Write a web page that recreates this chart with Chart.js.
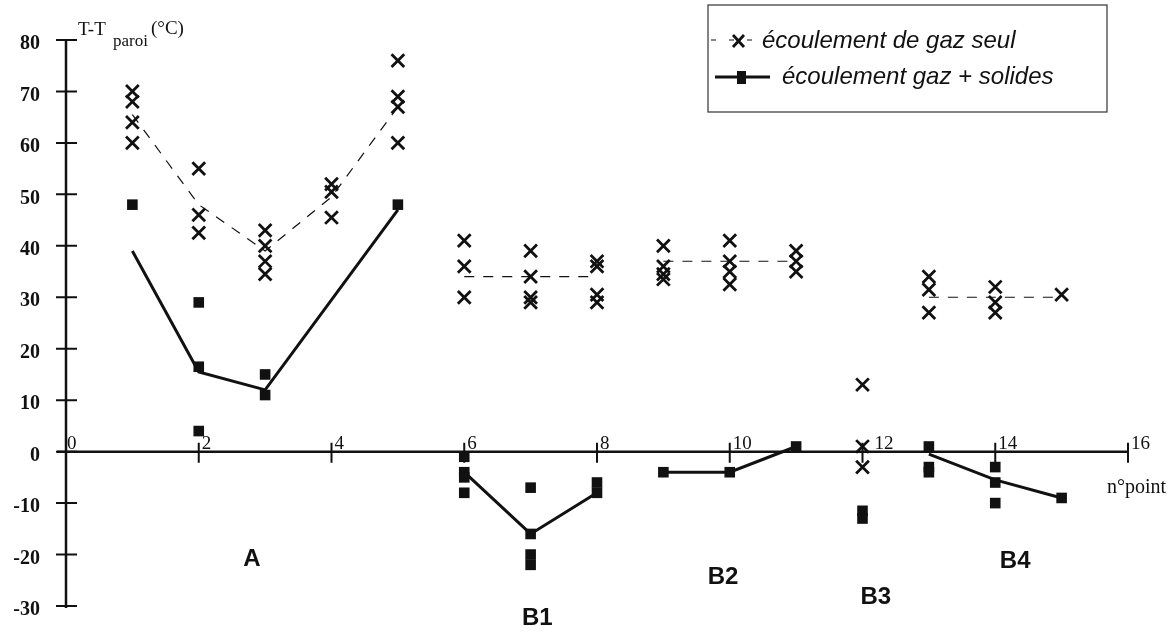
<!DOCTYPE html>
<html lang="fr">
<head>
<meta charset="utf-8">
<title>T-T paroi</title>
<script src="https://cdn.jsdelivr.net/npm/chart.js@4.4.1/dist/chart.umd.min.js"></script>
<style>
  html, body { margin: 0; padding: 0; background: #fff; }
  #wrap { position: relative; width: 1173px; height: 635px; }
</style>
</head>
<body>
<div id="wrap"><canvas id="graphe"></canvas></div>
<script>
// n° de point de mesure
const points = [1, 2, 3, 4, 5, 6, 7, 8, 9, 10, 11, 12, 13, 14, 15];

// T - T paroi (°C), toutes les mesures de chaque point
const gazSeul = [
  [70, 68, 64, 60], [55, 46, 42.5], [43, 40, 37, 34.5], [52, 50.5, 45.5], [76, 69, 67, 60],
  [41, 36, 30], [39, 34, 30, 29], [37, 36, 30.5, 29],
  [40, 36, 34.5, 33.5], [41, 37, 35, 32.5], [39, 37, 35],
  [13, 1, -3],
  [34, 31.5, 27], [32, 29, 27], [30.5]
];
const gazSolides = [
  [48], [29, 16.5, 4], [15, 11], [], [48],
  [-1, -4, -5, -8], [-7, -16, -20, -22], [-6, -8],
  [-4], [-4], [1],
  [-11.5, -13],
  [1, -3, -4], [-3, -6, -10], [-9]
];

// valeurs moyennes reliées par les courbes
const moyGazSeul = [65.5, 48, 39, 49.5, 67, 34, 34, 34, 37, 37, 37, null, 30, 30, 30];
const moyGazSolides = [39, 15.5, 12, null, 47, -4, -16, -8, -4, -4, 1, null, -0.5, -5.5, -9];

// zones de mesure
const zones = ['A', 'B1', 'B2', 'B3', 'B4'];
const zoneDebut = [1, 6, 9, 12, 13];
const zoneFin = [5, 8, 11, 12, 15];
const zoneEtiqX = [2.8, 7.1, 9.9, 12.2, 14.3];
const zoneEtiqY = [-21, -32.5, -24.5, -28.3, -21.4];

const xTicks = [0, 2, 4, 6, 8, 10, 12, 14, 16];
const yTicks = [80, 70, 60, 50, 40, 30, 20, 10, 0, -10, -20, -30];

const noir = '#111';

function nuage(series) {
  const pts = [];
  series.forEach((vals, i) => vals.forEach(v => pts.push({ x: points[i], y: v })));
  return pts;
}

function segments(moy, style) {
  return zones.map((z, k) => {
    const data = [];
    points.forEach((p, i) => {
      if (p >= zoneDebut[k] && p <= zoneFin[k] && moy[i] !== null) data.push({ x: p, y: moy[i] });
    });
    return Object.assign({
      data: data,
      showLine: true,
      pointRadius: 0,
      borderColor: noir,
      fill: false,
      clip: false
    }, style);
  }).filter(ds => ds.data.length > 1);
}

const datasets = [
  {
    label: 'écoulement de gaz seul',
    data: nuage(gazSeul),
    pointStyle: 'crossRot',
    pointRadius: 9,
    borderWidth: 2.8,
    borderColor: noir,
    showLine: false,
    clip: false
  },
  {
    label: 'écoulement gaz + solides',
    data: nuage(gazSolides),
    pointStyle: 'rect',
    pointRadius: 7.5,
    borderWidth: 0,
    backgroundColor: noir,
    showLine: false,
    clip: false
  }
].concat(
  segments(moyGazSeul, { borderWidth: 1.2, borderDash: [10, 9] }),
  segments(moyGazSolides, { borderWidth: 3 })
);

const axesEtTextes = {
  id: 'axesEtTextes',
  beforeDatasetsDraw(chart) {
    const { ctx, scales: { x, y } } = chart;
    const x0 = x.getPixelForValue(0);
    const y0 = y.getPixelForValue(0);
    ctx.save();
    ctx.strokeStyle = noir;
    ctx.lineWidth = 2.5;
    ctx.beginPath();
    ctx.moveTo(x0, y.getPixelForValue(80));
    ctx.lineTo(x0, y.getPixelForValue(-30) + 2);
    ctx.moveTo(x0 - 9, y0);
    ctx.lineTo(x.getPixelForValue(16), y0);
    ctx.stroke();

    ctx.lineWidth = 2;
    ctx.beginPath();
    yTicks.forEach(v => {
      const py = y.getPixelForValue(v);
      ctx.moveTo(x0 - 10, py);
      ctx.lineTo(x0 + 11, py);
    });
    xTicks.forEach(v => {
      if (v === 0) return;
      const px = x.getPixelForValue(v);
      ctx.moveTo(px, y0 - 9);
      ctx.lineTo(px, y0 + 11);
    });
    ctx.stroke();

    // graduations
    ctx.fillStyle = noir;
    ctx.font = 'bold 20px "Liberation Serif"';
    ctx.textAlign = 'right';
    ctx.textBaseline = 'middle';
    yTicks.forEach(v => ctx.fillText(String(v), x0 - 26, y.getPixelForValue(v) + 4));

    ctx.font = '19px "Liberation Serif"';
    ctx.textAlign = 'left';
    ctx.textBaseline = 'alphabetic';
    xTicks.forEach(v => {
      const dx = v === 12 ? 12 : (v === 0 ? 1 : 3);
      ctx.fillText(String(v), x.getPixelForValue(v) + dx, y0 - 3);
    });

    // titres des axes
    ctx.font = '19px "Liberation Serif"';
    ctx.fillText('T-T', x0 + 12, 35);
    ctx.font = '17px "Liberation Serif"';
    ctx.fillText('paroi', x0 + 47, 46);
    ctx.font = '19px "Liberation Serif"';
    ctx.fillText('(°C)', x0 + 85, 34);
    ctx.font = '20px "Liberation Serif"';
    ctx.fillText('n°point', x.getPixelForValue(16) - 21, y0 + 41);
    ctx.restore();
  },
  afterDatasetsDraw(chart) {
    const { ctx, scales: { x, y } } = chart;
    ctx.save();
    ctx.fillStyle = noir;
    ctx.strokeStyle = noir;

    // zones
    ctx.font = 'bold 24px "Liberation Sans"';
    ctx.textAlign = 'center';
    ctx.textBaseline = 'middle';
    zones.forEach((z, k) => {
      ctx.fillText(z, x.getPixelForValue(zoneEtiqX[k]), y.getPixelForValue(zoneEtiqY[k]));
    });

    // légende
    const lx = 708, ly = 5, lw = 399, lh = 107;
    ctx.lineWidth = 1.2;
    ctx.strokeStyle = '#333';
    ctx.strokeRect(lx, ly, lw, lh);
    ctx.strokeStyle = noir;

    ctx.lineWidth = 1.2;
    ctx.setLineDash([5, 13]);
    ctx.beginPath();
    ctx.moveTo(lx + 3, 40);
    ctx.lineTo(lx + 46, 40);
    ctx.stroke();
    ctx.setLineDash([]);
    ctx.lineWidth = 2.8;
    ctx.beginPath();
    ctx.moveTo(lx + 25, 35); ctx.lineTo(lx + 36, 47);
    ctx.moveTo(lx + 36, 35); ctx.lineTo(lx + 25, 47);
    ctx.stroke();

    ctx.lineWidth = 3;
    ctx.beginPath();
    ctx.moveTo(lx + 7, 77);
    ctx.lineTo(lx + 62, 77);
    ctx.stroke();
    ctx.fillRect(lx + 29, 71, 9, 13);

    ctx.font = 'italic 24px "Liberation Sans"';
    ctx.textAlign = 'left';
    ctx.textBaseline = 'alphabetic';
    ctx.fillText(datasets[0].label, lx + 54, 48);
    ctx.fillText(datasets[1].label, lx + 74, 84);
    ctx.restore();
  }
};

new Chart(document.getElementById('graphe'), {
  type: 'scatter',
  data: { datasets: datasets },
  options: {
    responsive: true,
    maintainAspectRatio: false,
    animation: false,
    layout: { padding: { left: 66, right: 45, top: 40, bottom: 29 } },
    scales: {
      x: { type: 'linear', min: 0, max: 16, display: false },
      y: { type: 'linear', min: -30, max: 80, display: false }
    },
    plugins: {
      legend: { display: false },
      tooltip: { enabled: false }
    }
  },
  plugins: [axesEtTextes]
});
</script>
</body>
</html>
